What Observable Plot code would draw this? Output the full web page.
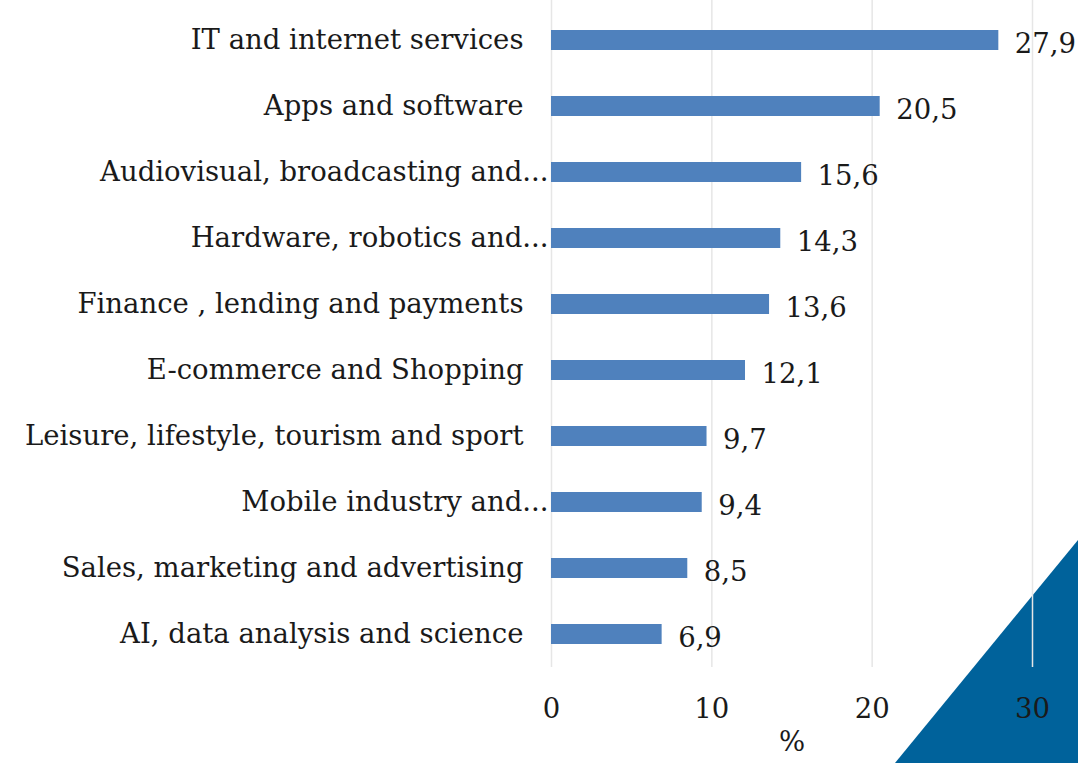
<!DOCTYPE html>
<html>
<head>
<meta charset="utf-8">
<script src="https://cdn.jsdelivr.net/npm/d3@7"></script>
<script src="https://cdn.jsdelivr.net/npm/@observablehq/plot@0.6"></script>
<style>
  html, body { margin: 0; padding: 0; background: #fff; }
  #wrap { position: relative; width: 1078px; height: 763px; overflow: hidden; }
  #tri { position: absolute; left: 0; top: 0; width: 1078px; height: 763px; background: #00629b;
         clip-path: polygon(895px 763px, 1078px 540px, 1078px 763px); }
  #chart { position: absolute; left: 0; top: 0; }
  #chart svg { background: transparent !important; }
</style>
</head>
<body>
<div id="wrap"><div id="tri"></div><div id="chart"></div></div>
<script>
const categories = [
  "IT and internet services",
  "Apps and software",
  "Audiovisual, broadcasting and...",
  "Hardware, robotics and...",
  "Finance , lending and payments",
  "E-commerce and Shopping",
  "Leisure, lifestyle, tourism and sport",
  "Mobile industry and...",
  "Sales, marketing and advertising",
  "AI, data analysis and science"
];
const values = [27.9, 20.5, 15.6, 14.3, 13.6, 12.1, 9.7, 9.4, 8.5, 6.9];
const xTicks = [0, 10, 20, 30];
const xLabel = "%";

const data = categories.map((c, i) => ({cat: c, value: values[i]}));
const truncated = categories.filter(c => c.endsWith("..."));
const full = categories.filter(c => !c.endsWith("..."));
const fmt = v => v.toFixed(1).replace(".", ",");
const FS = 27.5;

const chart = Plot.plot({
  width: 1078,
  height: 763,
  marginLeft: 551,
  marginRight: 46,
  marginTop: 0,
  marginBottom: 96,
  style: {fontFamily: "DejaVu Serif", fontSize: FS + "px", color: "#1a1a1a", background: "transparent"},
  x: {domain: [0, 30], ticks: xTicks, label: null},
  y: {domain: categories, paddingInner: 0.7, paddingOuter: 0.4, align: 0.56, label: null},
  marks: [
    Plot.gridX(xTicks, {stroke: "#e6e6e6", strokeOpacity: 1, strokeWidth: 1.5}),
    Plot.barX(data, {x: "value", y: "cat", fill: "#4f81bd"}),
    Plot.text(data, {x: "value", y: "cat", text: d => fmt(d.value), textAnchor: "start", dx: 16, dy: 4, fill: "#1a1a1a", fontSize: FS}),
    Plot.axisY(full, {tickSize: 0, tickPadding: 28, fontSize: FS, fill: "#1a1a1a", label: null}),
    Plot.axisY(truncated, {tickSize: 0, tickPadding: 3, fontSize: FS, fill: "#1a1a1a", label: null}),
    Plot.axisX(xTicks, {tickSize: 0, tickPadding: 31, fontSize: FS, fill: "#1a1a1a", tickFormat: d => String(d), label: null}),
    Plot.text([xLabel], {frameAnchor: "bottom", dy: 83, fontSize: FS, fill: "#1a1a1a"})
  ]
});
document.getElementById("chart").appendChild(chart);
</script>
</body>
</html>
